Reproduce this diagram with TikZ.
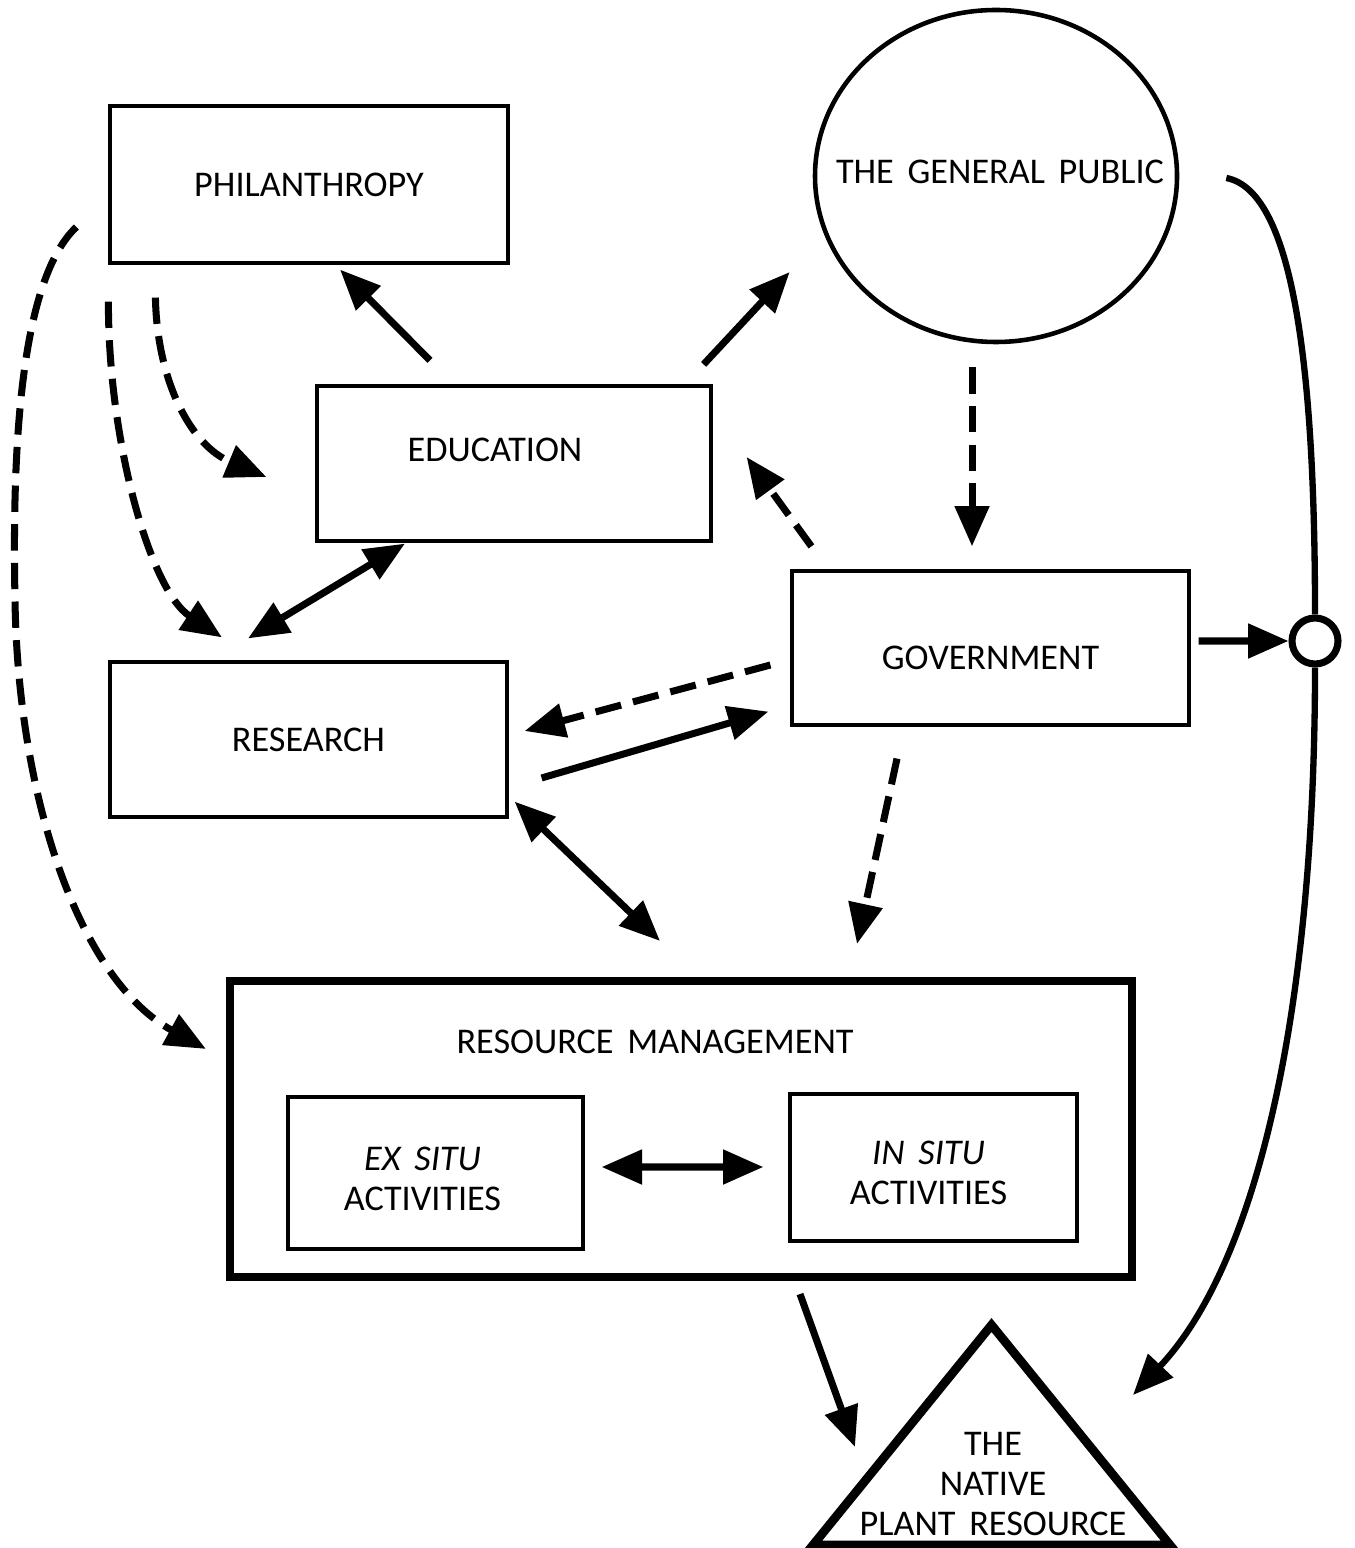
\documentclass[tikz,border=0pt]{standalone}
\usepackage{fontspec}
\setmainfont{Carlito}
\usepackage{tikz}
\usetikzlibrary{positioning,arrows.meta,shapes.geometric,calc}
\newcommand{\diagfont}{\fontsize{10.3}{11.4}\selectfont\setlength{\spaceskip}{0.38em plus 0.1em}}

\begin{document}
\begin{tikzpicture}[
    x = 1cm, y = -1cm,
    > = {Triangle[length=11.5pt, width=9.5pt]},
    font = \diagfont,
    box/.style = {rectangle, draw, line width=0.9pt, inner sep=0pt},
    flow/.style = {line width=2pt},
    hint/.style = {line width=2pt, dash pattern=on 7.5pt off 3.5pt}
]
\useasboundingbox (0,0) rectangle (13.55,15.48);

% Actors
\node[box, minimum width=3.98cm, minimum height=1.57cm] (phil) at (3.09,1.845) {PHILANTHROPY};
\node[ellipse, draw, line width=1.3pt, minimum width=3.62cm, minimum height=3.32cm, inner sep=0pt,
      label={[xshift=0.04cm, yshift=0.04cm]center:THE GENERAL PUBLIC}] (gp) at (9.96,1.76) {};
\node[box, minimum width=3.94cm, minimum height=1.55cm,
      label={[xshift=-0.19cm, yshift=0.135cm]center:EDUCATION}] (edu) at (5.14,4.635) {};
\node[box, minimum width=3.97cm, minimum height=1.54cm,
      label={[yshift=-0.10cm]center:GOVERNMENT}] (gov) at (9.905,6.48) {};
\node[box, minimum width=3.97cm, minimum height=1.55cm] (res) at (3.085,7.395) {RESEARCH};

% Resource management
\node[box, line width=2.3pt, minimum width=9.02cm, minimum height=2.96cm] (rm) at (6.81,11.29) {};
\node (rmlab) at ($(rm.north)+(-0.26,0.65)$) {RESOURCE MANAGEMENT};
\node[box, minimum width=2.95cm, minimum height=1.52cm,
      label={[align=center, xshift=-0.13cm, yshift=-0.06cm]center:{\textit{EX SITU}\\ACTIVITIES}}] (exsitu) at (4.355,11.73) {};
\node[box, minimum width=2.87cm, minimum height=1.47cm,
      label={[align=center, xshift=-0.05cm, yshift=-0.05cm]center:{\textit{IN SITU}\\ACTIVITIES}}] (insitu) at (9.335,11.675) {};

% Junction and the resource
\node[circle, draw, fill=white, line width=2pt, minimum size=0.46cm, inner sep=0pt] (jn) at (13.15,6.41) {};
\coordinate (npr-top) at (9.915,13.25);
\coordinate (npr-left) at (8.13,15.45);
\coordinate (npr-right) at (11.70,15.45);
\draw[line width=2.5pt] (npr-left) -- (npr-top) -- (npr-right) -- cycle;
\node[align=center] (npr) at (9.93,14.84) {THE\\NATIVE\\PLANT RESOURCE};

% Solid flows
\path[->, flow]
    ($(edu.north)+(-0.84,-0.24)$) edge ($(phil.south)+(0.31,0.05)$)
    ($(edu.north east)+(-0.09,-0.20)$) edge ($(gp.west)+(-0.23,0.96)$)
    ($(res.east)+(0.33,0.385)$) edge ($(gov.south west)+(-0.22,-0.15)$)
    ($(gov.east)+(0.08,-0.07)$) edge (jn)
    ($(rm.south)+(1.19,0.13)$) edge ($(npr-top)+(-1.365,1.22)$);

% Two-way flows
\path[<->, flow]
    ($(edu.south)+(-1.09,0.01)$) edge ($(res.north)+(-0.605,-0.22)$)
    ($(res.south east)+(0.06,-0.17)$) edge ($(rm.north)+(-0.21,-0.36)$)
    ($(exsitu.east)+(0.17,-0.06)$) edge ($(insitu.west)+(-0.25,-0.005)$);

% Dashed flows
\path[->, hint]
    ($(gp.south)+(-0.24,0.23)$) edge ($(gov.north)+(-0.185,-0.23)$)
    ($(gov.north west)+(0.21,-0.23)$) edge ($(edu.east)+(0.34,-0.065)$)
    ($(gov.west)+(-0.20,0.17)$) edge ($(res.east)+(0.16,-0.085)$)
    ($(gov.south)+(-0.935,0.32)$) edge ($(rm.north)+(1.76,-0.33)$);

% Dashed flows from philanthropy
\draw[->, hint] ($(phil.south west)+(0.47,0.33)$) .. controls (1.57,3.80) and (1.90,4.45) .. ($(edu.west)+(-0.49,0.135)$);
\draw[->, hint] ($(phil.south west)+(0,0.37)$) .. controls (1.08,4.40) and (1.50,5.90) .. ($(res.north)+(-0.865,-0.23)$);
\draw[->, hint] ($(phil.west)+(-0.32,0.425)$) .. controls (0.20,2.80) and (0.12,4.50) .. (0.15,6.00)
    .. controls (0.18,8.00) and (0.80,9.80) .. ($(rm.north west)+(-0.20,0.72)$);

% The public acts on the resource
\draw[line width=1.8pt] ($(gp.east)+(0.47,0.02)$) .. controls (12.90,1.90) and (13.15,3.50) .. (jn);
\draw[->, line width=1.8pt] (jn) .. controls (13.15,10.00) and (12.60,12.60) .. ($(npr-top)+(1.415,0.70)$);

\end{tikzpicture}
\end{document}
